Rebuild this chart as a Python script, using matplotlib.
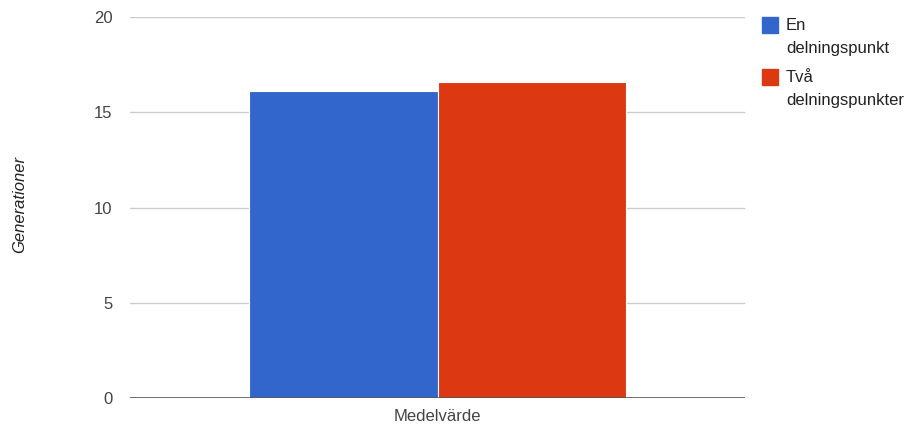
import matplotlib.pyplot as plt
from matplotlib.patches import Rectangle

plt.rcParams['font.family'] = ['Liberation Sans', 'DejaVu Sans']

categories = ['Medelvärde']
series_names = ['En\ndelningspunkt', 'Två\ndelningspunkter']
series_values = [[16.1], [16.6]]
series_colors = ['#3366CC', '#DC3912']
y_ticks = [0, 5, 10, 15, 20]

W, H = 911, 430
fig = plt.figure(figsize=(W / 100, H / 100), dpi=100)
ax = fig.add_axes([130 / W, 1 - 397.7 / H, 615 / W, 380.4 / H])

bar_w = 0.306
n = len(series_values)
for i, (vals, col) in enumerate(zip(series_values, series_colors)):
    offset = (i - (n - 1) / 2) * bar_w
    xs = [c + offset for c in range(len(categories))]
    ax.bar(xs, vals, width=bar_w, color=col, edgecolor='white', linewidth=0.8, zorder=3)

ax.set_xlim(-0.5, len(categories) - 0.5)
ax.set_ylim(y_ticks[0], y_ticks[-1])
ax.set_yticks(y_ticks)
ax.set_xticks(range(len(categories)))
ax.set_xticklabels(categories)
ax.tick_params(length=0, labelsize=12, colors='#444444')
ax.tick_params(axis='x', pad=8)
ax.tick_params(axis='y', pad=12.5)

for t in y_ticks[1:]:
    ax.axhline(t, color='#CCCCCC', linewidth=1, zorder=1)
ax.axhline(0, color='#555555', linewidth=1.2, zorder=4)

for s in ax.spines.values():
    s.set_visible(False)

fig.text(20 / W, 1 - 205 / H, 'Generationer', rotation=90, style='italic',
         fontsize=12, color='#222222', ha='center', va='center')

# legend on the right: colour square, then the name line by line
sq = 16
square_tops = [17, 69]
for name, col, top in zip(series_names, series_colors, square_tops):
    fig.patches.append(Rectangle((762 / W, 1 - (top + sq) / H), sq / W, sq / H,
                                 transform=fig.transFigure, color=col))
    for k, line in enumerate(name.split('\n')):
        y = top + sq / 2 + k * 23
        fig.text(786 / W, 1 - y / H, line, fontsize=12, color='#222222',
                 ha='left', va='center')

fig.savefig('out.png', dpi=100)
